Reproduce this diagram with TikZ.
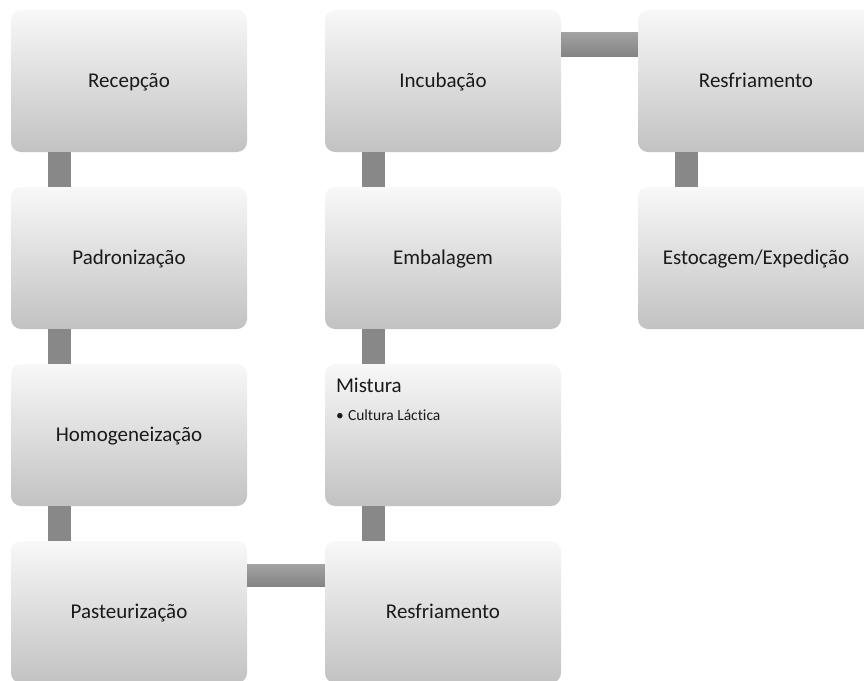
\documentclass[tikz,border=0pt]{standalone}
\usepackage{fontspec}
\setmainfont{Carlito}[Ligatures={CommonOff}]
\usetikzlibrary{calc}
\definecolor{boxtop}{HTML}{F8F8F8}
\definecolor{boxbot}{HTML}{C2C2C2}
\definecolor{conntop}{HTML}{A2A2A2}
\definecolor{connbot}{HTML}{838383}
\definecolor{txt}{HTML}{1A1A1A}
\tikzset{
  box/.style={rectangle, rounded corners=10pt, minimum width=236pt, minimum height=142pt,
    inner sep=0pt, top color=boxtop, bottom color=boxbot, draw=none,
    text height=13pt, text depth=1pt,
    font=\fontsize{21}{25}\selectfont, text=txt},
  vconn/.style={fill=connbot!85!conntop},
  hconn/.style={top color=conntop, bottom color=connbot},
  small/.style={font=\fontsize{15.5}{19}\selectfont, text=txt, inner sep=0pt},
  big/.style={font=\fontsize{21}{25}\selectfont, text=txt, inner sep=0pt}
}
\begin{document}
\begin{tikzpicture}[x=1pt,y=-1pt]
\useasboundingbox (0,0) rectangle (864,680);
\clip (0,0) rectangle (864,680);
% column 1
\node[box] (rec) at (129,81) {Recepção};
\node[box] (pad) at (129,258) {Padronização};
\node[box] (hom) at (129,435) {Homogeneização};
\node[box] (pas) at (129,612) {Pasteurização};
% column 2
\node[box] (res1) at (443,612) {Resfriamento};
\node[box] (mis) at (443,435) {};
\node[box] (emb) at (443,258) {Embalagem};
\node[box] (inc) at (443,81) {Incubação};
% column 3
\node[box] (res2) at (756,81) {Resfriamento};
\node[box] (est) at (756,258) {Estocagem/Expedição};
% Mistura text
\node[big, anchor=base west] (mistxt) at ($(mis.north west)+(11,29)$) {Mistura};
\node[small, anchor=base west] (bul) at ($(mis.north west)+(11,57)$) {•};
\node[small, anchor=base west] (cult) at ($(mis.north west)+(23,57)$) {Cultura Láctica};
% connectors
\fill[vconn] ($(rec.south west)+(37,0)$) rectangle ($(pad.north west)+(60,0)$);
\fill[vconn] ($(pad.south west)+(37,0)$) rectangle ($(hom.north west)+(60,0)$);
\fill[vconn] ($(hom.south west)+(37,0)$) rectangle ($(pas.north west)+(60,0)$);
\path[hconn] ($(pas.north east)+(0,24)$) rectangle ($(res1.north west)+(0,46)$);
\fill[vconn] ($(mis.south west)+(37,0)$) rectangle ($(res1.north west)+(60,0)$);
\fill[vconn] ($(emb.south west)+(37,0)$) rectangle ($(mis.north west)+(60,0)$);
\fill[vconn] ($(inc.south west)+(37,0)$) rectangle ($(emb.north west)+(60,0)$);
\path[hconn] ($(inc.north east)+(0,23)$) rectangle ($(res2.north west)+(0,47)$);
\fill[vconn] ($(res2.south west)+(37,0)$) rectangle ($(est.north west)+(60,0)$);
\end{tikzpicture}
\end{document}
